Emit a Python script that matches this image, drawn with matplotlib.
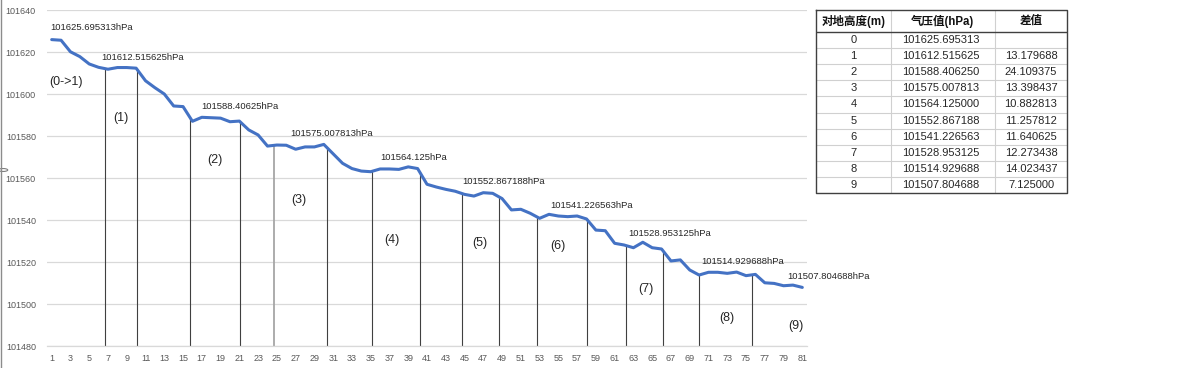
import numpy as np
import matplotlib
matplotlib.use("Agg")
import matplotlib.pyplot as plt
from matplotlib.lines import Line2D
from matplotlib.patches import Circle

# ---------------- data ----------------
sample_idx = np.arange(1, 82)
pressure = [
    101625.9, 101625.6, 101620.1, 101617.8, 101614.3, 101612.7, 101611.8, 101612.6, 101612.6, 101612.3,
    101606.3, 101603.0, 101600.0, 101594.3, 101594.0, 101587.0, 101588.9, 101588.7, 101588.5, 101586.8,
    101587.1, 101582.9, 101580.5, 101575.2, 101575.7, 101575.6, 101573.7, 101574.8, 101574.8, 101576.0,
    101571.5, 101567.0, 101564.5, 101563.3, 101563.0, 101564.3, 101564.3, 101564.1, 101565.3, 101564.5,
    101557.0, 101555.7, 101554.6, 101553.7, 101552.2, 101551.4, 101553.0, 101552.7, 101550.2, 101544.8,
    101545.1, 101543.2, 101540.8, 101542.7, 101541.9, 101541.6, 101541.9, 101540.5, 101535.2, 101534.9,
    101528.9, 101528.1, 101526.8, 101529.4, 101526.8, 101526.2, 101520.5, 101521.0, 101516.2, 101513.8,
    101515.1, 101515.1, 101514.6, 101515.2, 101513.5, 101514.1, 101510.1, 101509.8, 101508.7, 101509.0,
    101507.9,
]

heights = list(range(10))
height_pressure = [101625.695313, 101612.515625, 101588.406250, 101575.007813, 101564.125000,
                   101552.867188, 101541.226563, 101528.953125, 101514.929688, 101507.804688]
height_diff = [None, 13.179688, 24.109375, 13.398437, 10.882813, 11.257812,
               11.640625, 12.273438, 14.023437, 7.125000]
segment_names = ["(0->1)", "(1)", "(2)", "(3)", "(4)", "(5)", "(6)", "(7)", "(8)", "(9)"]
table_header = ["对地高度(m)", "气压值(hPa)", "差值"]

# divider line positions (fractional sample index)
divider_idx = [6.68, 10.09, 15.77, 21.1, 24.69, 30.31, 35.17, 40.22,
               44.73, 48.67, 52.69, 58.02, 62.21, 66.15, 69.95, 75.67]

y_ticks = np.arange(101480, 101641, 20)
x_ticks = np.arange(1, 82, 2)

# label placement (data coordinates)
value_label_pos = [(0.82, 101631.9), (6.33, 101617.6), (16.99, 101594.0), (26.4, 101581.0),
                   (36.0, 101570.0), (44.73, 101558.1), (54.1, 101546.7), (62.5, 101533.8),
                   (70.2, 101520.0), (79.4, 101513.3)]
segment_label_pos = [(2.52, 101605.7), (8.33, 101588.6), (18.35, 101568.6), (27.36, 101549.5),
                     (37.27, 101530.5), (46.65, 101529.0), (54.96, 101527.6), (64.34, 101507.1),
                     (72.97, 101493.3), (80.27, 101489.5)]

# ---------------- figure ----------------
plt.rcParams['font.family'] = ['Liberation Sans', 'Noto Sans CJK SC', 'DejaVu Sans']
W, H = 1181, 368
fig = plt.figure(figsize=(W / 100, H / 100), dpi=100)
fig.patch.set_facecolor('white')

ax = fig.add_axes([47 / W, 1 - 346 / H, 760 / W, 336 / H])
ax.set_xlim(0.5, 81.5)
ax.set_ylim(101480, 101640)
ax.set_yticks(y_ticks)
ax.set_yticklabels([str(v) for v in y_ticks])
ax.set_xticks(x_ticks)
ax.set_xticklabels([str(v) for v in x_ticks])
ax.tick_params(axis='both', length=0, labelsize=6.5, labelcolor='#595959')
ax.tick_params(axis='y', pad=8)
ax.tick_params(axis='x', pad=6)
for s in ['left', 'right', 'top']:
    ax.spines[s].set_visible(False)
ax.spines['bottom'].set_color('#d9d9d9')
ax.spines['bottom'].set_linewidth(0.9)
ax.grid(axis='y', color='#d9d9d9', linewidth=0.9)
ax.set_axisbelow(True)

# divider lines from axis up to curve
tops = np.interp(divider_idx, sample_idx, pressure)
for k, (xd, top) in enumerate(zip(divider_idx, tops)):
    col = '#a6a6a6' if k == 4 else '#404040'
    lw = 1.3 if k == 4 else 0.8
    ax.plot([xd, xd], [101480, top], color=col, linewidth=lw, zorder=2)

ax.plot(sample_idx, pressure, color='#4472C4', linewidth=2.2,
        solid_joinstyle='round', solid_capstyle='round', zorder=3)

for (xp, yp), v in zip(value_label_pos, height_pressure):
    txt = f"{v:.6f}".rstrip('0').rstrip('.') + "hPa"
    ax.text(xp, yp, txt, fontsize=6.8, color='#262626', ha='left', va='center', clip_on=False)

for (xp, yp), name in zip(segment_label_pos, segment_names):
    ax.text(xp, yp, name, fontsize=9, color='#262626', ha='center', va='center')

# chart area left border + handle
fig.add_artist(Line2D([1 / W, 1 / W], [0, 1], color='#8c8c8c', linewidth=1.0))
fig.add_artist(Circle((3 / W, 1 - 170 / H), 0.004, transform=fig.transFigure,
                      facecolor='white', edgecolor='#7f7f7f', linewidth=0.8))

# ---------------- table ----------------
tx0, ty0, tw, th = 816, 10, 251, 183
tax = fig.add_axes([tx0 / W, 1 - (ty0 + th) / H, tw / W, th / H])
tax.set_xlim(0, tw)
tax.set_ylim(th, 0)
tax.axis('off')
col_edges = [0, 75, 179, tw]
col_centers = [(col_edges[i] + col_edges[i + 1]) / 2 for i in range(3)]
head_h = 22
row_h = (th - head_h) / 10

for xe in col_edges[1:-1]:
    tax.plot([xe, xe], [0, th], color='#d0d0d0', linewidth=0.8)
for r in range(1, 10):
    yy = head_h + r * row_h
    tax.plot([0, tw], [yy, yy], color='#d0d0d0', linewidth=0.8)
tax.plot([0, tw], [head_h, head_h], color='#404040', linewidth=1.0)
tax.plot([0, tw, tw, 0, 0], [0, 0, th, th, 0], color='#404040', linewidth=1.0, clip_on=False)

for c, h in zip(col_centers, table_header):
    tax.text(c, head_h / 2, h, fontsize=8.3, fontweight='bold', ha='center', va='center', color='#111111')
for r, (hh, p, d) in enumerate(zip(heights, height_pressure, height_diff)):
    yc = head_h + (r + 0.5) * row_h
    tax.text(col_centers[0], yc, str(hh), fontsize=8, ha='center', va='center', color='#262626')
    tax.text(col_centers[1] - 2, yc, f"{p:.6f}", fontsize=8, ha='center', va='center', color='#262626')
    if d is not None:
        tax.text(col_centers[2], yc, f"{d:.6f}", fontsize=8, ha='center', va='center', color='#262626')

fig.savefig('out.png', dpi=100, facecolor='white')
